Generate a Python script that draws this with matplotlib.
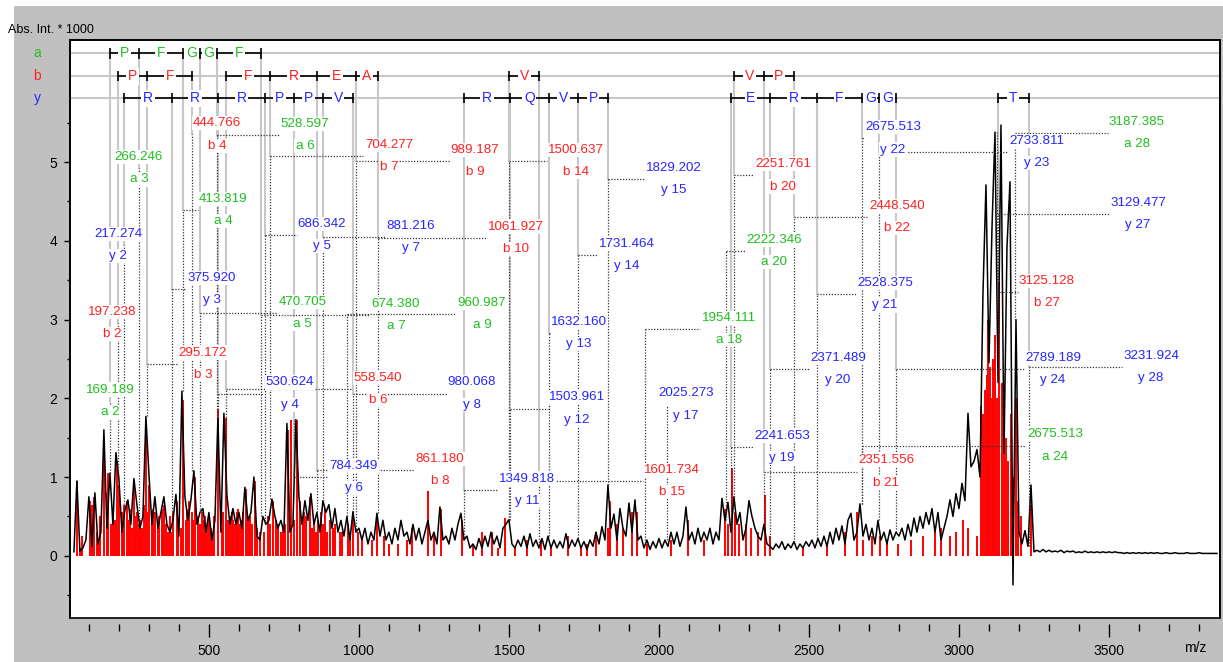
import numpy as np
import matplotlib
matplotlib.use("Agg")
import matplotlib.pyplot as plt
import matplotlib.transforms as mtransforms
from matplotlib.patches import Rectangle
from matplotlib.ticker import MultipleLocator

plt.rcParams['font.family'] = ['Liberation Sans', 'DejaVu Sans']

# profile spectrum (Abs. Int. * 1000), one point every 10 Da starting at m/z 50
profile_start = 50
profile_step = 10
profile_int = [
    0.05, 0.95, 0.06, 0.10, 0.20, 0.75, 0.12, 0.80, 0.15, 0.30, 1.60, 0.35, 1.05, 0.40, 1.31, 0.98, 0.30, 0.58, 0.71, 0.40,
    0.98, 0.65, 0.35, 0.50, 1.77, 1.04, 0.40, 0.75, 0.35, 0.55, 0.75, 0.40, 0.30, 0.45, 0.78, 0.25, 2.09, 0.75, 0.45, 0.71,
    1.08, 0.40, 0.55, 0.60, 0.30, 0.55, 0.20, 0.45, 1.75, 0.30, 1.81, 0.77, 0.40, 0.60, 0.40, 0.55, 0.35, 0.87, 0.45, 0.55,
    1.00, 0.25, 0.20, 0.50, 0.40, 0.45, 0.72, 0.50, 0.35, 0.45, 0.30, 1.68, 0.30, 0.40, 1.73, 0.75, 0.40, 0.70, 0.45, 0.79,
    0.40, 0.55, 0.30, 0.70, 0.55, 0.65, 0.35, 0.60, 0.30, 0.45, 0.25, 0.50, 0.20, 0.56, 0.30, 0.35, 0.20, 0.35, 0.15, 0.30,
    0.20, 0.54, 0.25, 0.45, 0.20, 0.30, 0.15, 0.35, 0.20, 0.45, 0.25, 0.30, 0.15, 0.40, 0.20, 0.35, 0.15, 0.30, 0.45, 0.20,
    0.30, 0.15, 0.62, 0.20, 0.25, 0.15, 0.35, 0.20, 0.40, 0.54, 0.20, 0.25, 0.10, 0.15, 0.08, 0.22, 0.10, 0.25, 0.12, 0.30,
    0.15, 0.25, 0.10, 0.35, 0.40, 0.46, 0.15, 0.10, 0.20, 0.12, 0.25, 0.10, 0.28, 0.12, 0.20, 0.10, 0.22, 0.08, 0.25, 0.10,
    0.20, 0.10, 0.18, 0.10, 0.28, 0.10, 0.20, 0.12, 0.22, 0.10, 0.18, 0.08, 0.20, 0.12, 0.30, 0.15, 0.37, 0.20, 0.90, 0.35,
    0.53, 0.20, 0.60, 0.35, 0.25, 0.67, 0.30, 0.71, 0.20, 0.25, 0.10, 0.20, 0.08, 0.18, 0.10, 0.22, 0.10, 0.20, 0.12, 0.30,
    0.15, 0.30, 0.12, 0.25, 0.62, 0.20, 0.30, 0.15, 0.35, 0.18, 0.30, 0.20, 0.35, 0.15, 0.30, 0.20, 0.73, 0.45, 0.68, 0.30,
    0.75, 0.40, 0.55, 0.20, 0.35, 0.70, 0.50, 0.35, 0.25, 0.20, 0.40, 0.15, 0.12, 0.08, 0.15, 0.10, 0.18, 0.08, 0.15, 0.10,
    0.18, 0.08, 0.15, 0.10, 0.18, 0.12, 0.20, 0.10, 0.22, 0.12, 0.25, 0.12, 0.30, 0.15, 0.35, 0.20, 0.38, 0.15, 0.45, 0.54,
    0.20, 0.30, 0.66, 0.25, 0.40, 0.20, 0.35, 0.15, 0.45, 0.20, 0.30, 0.15, 0.33, 0.20, 0.30, 0.25, 0.35, 0.20, 0.40, 0.25,
    0.48, 0.30, 0.50, 0.35, 0.55, 0.40, 0.60, 0.30, 0.55, 0.20, 0.35, 0.50, 0.71, 0.50, 0.79, 0.60, 0.92, 0.70, 1.81, 1.13,
    1.20, 1.35, 1.00, 3.34, 4.71, 2.45, 4.16, 5.38, 2.20, 5.47, 1.30, 3.92, 4.75, -0.37, 3.00, 0.30, 0.15, 0.32, 0.12, 0.90,
    0.05, 0.07, 0.05, 0.08, 0.05, 0.07, 0.05, 0.06, 0.05, 0.07, 0.04, 0.06, 0.05, 0.06, 0.04, 0.05, 0.04, 0.06, 0.04, 0.05,
    0.04, 0.05, 0.04, 0.05, 0.04, 0.05, 0.04, 0.05, 0.04, 0.04, 0.03, 0.04, 0.03, 0.04, 0.03, 0.04, 0.03, 0.04, 0.03, 0.04,
    0.03, 0.04, 0.03, 0.03, 0.04, 0.03, 0.03, 0.04, 0.03, 0.03, 0.03, 0.04, 0.03, 0.03, 0.03, 0.04, 0.03, 0.03, 0.03, 0.03,
    0.03, 0.03,
]

# centroided peak list
peak_mz = [
    59, 70, 76, 103, 109, 118, 126, 131, 137, 151, 159, 164, 173, 181, 187, 192, 200, 209, 213, 218,
    226, 233, 237, 242, 250, 255, 259, 267, 271, 276, 283, 290, 295, 300, 309, 314, 320, 329, 335, 342,
    346, 351, 358, 364, 370, 376, 380, 392, 398, 407, 414, 422, 427, 433, 442, 448, 455, 464, 470, 476,
    482, 487, 492, 500, 506, 511, 517, 531, 542, 548, 556, 564, 570, 576, 581, 587, 592, 598, 603, 609,
    615, 623, 630, 637, 645, 653, 660, 670, 684, 698, 705, 714, 722, 731, 740, 748, 755, 762, 773, 782,
    794, 803, 812, 818, 825, 837, 845, 851, 858, 864, 873, 880, 887, 895, 903, 912, 920, 937, 945, 962,
    970, 981, 998, 1010, 1042, 1059, 1084, 1100, 1131, 1160, 1176, 1231, 1250, 1273, 1342, 1380, 1411, 1442,
    1464, 1487, 1520, 1560, 1607, 1640, 1698, 1740, 1760, 1790, 1829, 1837, 1859, 1880, 1909, 1926, 1960, 2040,
    2096, 2150, 2220, 2231, 2244, 2253, 2267, 2290, 2307, 2330, 2355, 2370, 2480, 2560, 2620, 2659, 2681, 2710,
    2737, 2760, 2796, 2840, 2880, 2920, 2940, 2970, 2990, 3015, 3031, 3059, 3073, 3079, 3087, 3093, 3098, 3104,
    3109, 3115, 3120, 3126, 3135, 3143, 3150, 3157, 3165, 3173, 3181, 3190, 3198, 3206, 3239,
]
peak_int = [
    0.95, 0.10, 0.25, 0.70, 0.65, 0.75, 0.30, 0.20, 0.50, 1.45, 0.80, 1.05, 0.40, 0.55, 0.45, 1.20, 0.90, 0.55, 0.45, 0.65,
    0.70, 0.45, 0.60, 0.35, 0.90, 0.50, 0.55, 0.40, 0.45, 0.35, 0.65, 1.70, 0.55, 0.90, 0.45, 0.60, 0.55, 0.40, 0.50, 0.60,
    0.45, 0.65, 0.40, 0.30, 0.50, 0.30, 0.55, 0.70, 0.45, 0.35, 1.98, 0.45, 0.60, 0.70, 0.55, 0.45, 1.00, 0.50, 0.40, 0.55,
    0.45, 0.50, 0.40, 0.50, 0.35, 0.25, 0.50, 1.87, 0.35, 0.55, 1.75, 0.45, 0.50, 0.55, 0.45, 0.40, 0.55, 0.60, 0.40, 0.45,
    0.55, 0.85, 0.45, 0.50, 0.40, 0.95, 0.35, 0.30, 0.30, 0.50, 0.40, 0.70, 0.45, 0.40, 0.30, 0.35, 0.40, 1.60, 1.72, 0.45,
    1.72, 0.70, 0.40, 0.55, 0.50, 0.75, 0.35, 0.40, 0.30, 0.45, 0.55, 0.40, 0.60, 0.30, 0.45, 0.35, 0.40, 0.30, 0.30, 0.40,
    0.25, 0.56, 0.30, 0.20, 0.20, 0.50, 0.25, 0.15, 0.15, 0.20, 0.35, 0.82, 0.30, 0.60, 0.45, 0.15, 0.30, 0.30,
    0.10, 0.48, 0.12, 0.20, 0.20, 0.10, 0.25, 0.10, 0.15, 0.30, 0.35, 0.69, 0.40, 0.35, 0.55, 0.55, 0.15, 0.20,
    0.45, 0.20, 0.60, 0.40, 1.11, 0.55, 0.40, 0.40, 0.35, 0.30, 0.77, 0.25, 0.10, 0.15, 0.30, 0.55, 0.20, 0.25,
    0.25, 0.20, 0.15, 0.20, 0.25, 0.30, 0.35, 0.25, 0.30, 0.45, 0.35, 0.25, 1.90, 1.80, 2.10, 2.30, 2.99, 2.40,
    2.00, 2.50, 2.80, 2.00, 3.48, 2.20, 1.60, 1.50, 1.20, 1.80, 1.00, 2.00, 0.70, 0.50, 0.65,
]

# assigned fragments: ion number, m/z, label centre (m/z) and leader height
a_num = [2, 3, 4, 5, 6, 7, 9, 18, 20, 24, 28]
a_mz = [169.189, 266.246, 413.819, 470.705, 528.597, 674.380, 960.987, 1954.111, 2222.346, 2675.513, 3187.385]
a_lab_x = [173, 267, 547, 813, 820, 1123, 1410, 2233, 2383, 3320, 3593]
a_lab_y = [1.97, 4.92, 4.39, 3.08, 5.34, 3.06, 3.07, 2.88, 3.87, 1.40, 5.37]

b_num = [2, 3, 4, 6, 7, 8, 9, 10, 14, 15, 20, 21, 22, 27]
b_mz = [197.238, 295.172, 444.766, 558.540, 704.277, 861.180, 989.187, 1061.927, 1500.637, 1601.734,
        2251.761, 2351.556, 2448.540, 3125.128]
b_lab_x = [177, 480, 527, 1063, 1100, 1270, 1387, 1523, 1723, 2043, 2413, 2757, 2793, 3293]
b_lab_y = [2.96, 2.44, 5.35, 2.12, 5.08, 1.09, 5.01, 4.04, 5.01, 0.95, 4.83, 1.07, 4.30, 3.35]

y_num = [2, 3, 4, 5, 6, 7, 8, 11, 12, 13, 14, 15, 17, 19, 20, 21, 22, 23, 24, 27, 28]
y_mz = [217.274, 375.920, 530.624, 686.342, 784.349, 881.216, 980.068, 1349.818, 1503.961, 1632.160,
        1731.464, 1829.202, 2025.273, 2241.653, 2371.489, 2528.375, 2675.513, 2733.811, 2789.189,
        3129.477, 3231.924]
y_lab_x = [197, 510, 770, 877, 983, 1173, 1377, 1560, 1727, 1733, 1893, 2050, 2090, 2410, 2597, 2753,
           2780, 3260, 3313, 3597, 3640]
y_lab_y = [3.95, 3.39, 2.06, 4.07, 1.00, 4.05, 2.06, 0.84, 1.87, 2.83, 3.82, 4.78, 1.92, 1.38, 2.37,
           3.32, 5.30, 5.13, 2.37, 4.34, 2.40]

# sequence ladders (runs of consecutive ions) and the residues between them
a_ladder = [[2, 3, 4, 5, 6, 7]]
a_ladder_aa = [['P', 'F', 'G', 'G', 'F']]
b_ladder = [[2, 3, 4], [6, 7, 8, 9, 10], [14, 15], [20, 21, 22]]
b_ladder_aa = [['P', 'F'], ['F', 'R', 'E', 'A'], ['V'], ['V', 'P']]
y_ladder = [[2, 3, 4, 5, 6, 7, 8], [11, 12, 13, 14, 15], [19, 20, 21, 22, 23, 24], [27, 28]]
y_ladder_aa = [['R', 'R', 'R', 'P', 'P', 'V'], ['R', 'Q', 'V', 'P'], ['E', 'R', 'F', 'G', 'G'], ['T']]

row_y = {'a': 6.38, 'b': 6.09, 'y': 5.81}
colors = {'a': '#1fbf1f', 'b': '#ff2020', 'y': '#2626ff'}

W, H = 1223, 662
fig = plt.figure(figsize=(W / 100, H / 100), dpi=100, facecolor='white')
fig.add_artist(Rectangle((14 / W, 0), 1, 1 - 6 / H, transform=fig.transFigure,
                         facecolor='#c0c0c0', edgecolor='none', zorder=-10))
ax = fig.add_axes([70 / W, 1 - 618 / H, 1150 / W, 578 / H])
ax.set_facecolor('white')
ax.set_xlim(37, 3870)
ax.set_ylim(-0.79, 6.55)

px_mz = (3870 - 37) / 1150.0  # m/z units per pixel

prof_mz = profile_start + profile_step * np.arange(len(profile_int))
prof = np.array(profile_int)

# row guide lines
for r in row_y.values():
    ax.axhline(r, color='#c8c8c8', lw=1.5, zorder=1)

# spectrum
ax.vlines(peak_mz, 0, peak_int, color='#ff0000', lw=1.4, zorder=2)
ax.plot(prof_mz, prof, color='black', lw=1.1, zorder=3)

series = {
    'a': (a_num, a_mz, a_lab_x, a_lab_y, a_ladder, a_ladder_aa),
    'b': (b_num, b_mz, b_lab_x, b_lab_y, b_ladder, b_ladder_aa),
    'y': (y_num, y_mz, y_lab_x, y_lab_y, y_ladder, y_ladder_aa),
}

dots = dict(color='#333333', lw=0.9, ls=(0, (1, 1.3)), zorder=4)
for kind, (nums, mzs, lxs, lys, ladder, ladder_aa) in series.items():
    col = colors[kind]
    in_ladder = {n for run in ladder for n in run}
    for n, mz, lx, ly in zip(nums, mzs, lxs, lys):
        near = np.abs(prof_mz - mz) <= 6
        top = prof[near].max() if near.any() else 0.05
        txt = f"{mz:.3f}"
        # grey drop line from the ladder row to the label level
        if n in in_ladder:
            ax.plot([mz, mz], [row_y[kind], ly], color='#c8c8c8', lw=1.5, zorder=1)
        # dotted leader: peak top -> label level -> label edge
        ax.plot([mz, mz], [top, ly], **dots)
        hw = ((len(txt) - 1) * 0.556 + 0.278) * 13 / 2 * px_mz + 2 * px_mz
        if abs(lx - mz) > hw:
            end = lx - hw if lx > mz else lx + hw
            ax.plot([mz, end], [ly, ly], **dots)
        box = dict(facecolor='white', edgecolor='none', pad=0.8)
        ax.annotate(txt, (lx, ly), xytext=(0, 8), textcoords='offset points', ha='center',
                    va='center', color=col, fontsize=9.6, bbox=box, zorder=5)
        ax.annotate(f"{kind} {n}", (lx, ly), xytext=(0, -8), textcoords='offset points',
                    ha='center', va='center', color=col, fontsize=9.6, bbox=box, zorder=5)

    # ladder
    lookup = dict(zip(nums, mzs))
    ry = row_y[kind]
    for run, aas in zip(ladder, ladder_aa):
        xs = [lookup[n] for n in run]
        ax.plot([xs[0], xs[-1]], [ry, ry], color='black', lw=1.2, zorder=6)
        ax.vlines(xs, ry - 0.065, ry + 0.065, color='black', lw=1.2, zorder=6)
        for x0, x1, aa in zip(xs[:-1], xs[1:], aas):
            ax.text((x0 + x1) / 2, ry, aa, ha='center', va='center', color=col, fontsize=10,
                    bbox=dict(facecolor='white', edgecolor='none', pad=1.2), zorder=7)

# row names in the left margin
row_tr = mtransforms.blended_transform_factory(fig.transFigure, ax.transData)
for kind, r in row_y.items():
    ax.text(37 / W, r, kind, transform=row_tr, ha='center', va='center', color=colors[kind],
            fontsize=10, clip_on=False)

# axes and ticks
for s in ax.spines.values():
    s.set_linewidth(1.2)
ax.spines['bottom'].set_position(('outward', 4))
ax.spines['bottom'].set_color('none')
ax.add_patch(Rectangle((0, 0), 1, 1, transform=ax.transAxes, fill=False, edgecolor='black',
                       lw=1.2, clip_on=False, zorder=10))
ax.set_xticks([500, 1000, 1500, 2000, 2500, 3000, 3500])
ax.xaxis.set_minor_locator(MultipleLocator(100))
ax.set_yticks([0, 1, 2, 3, 4, 5])
ax.set_yticks(np.arange(-0.5, 6.0, 0.5), minor=True)
ax.tick_params(axis='x', which='major', length=9, width=1, pad=6, labelsize=10)
ax.tick_params(axis='x', which='minor', length=5, width=1)
ax.tick_params(axis='y', which='major', length=4, width=1, pad=5, labelsize=10)
ax.tick_params(axis='y', which='minor', length=2, width=1)

fig.text(8 / W, 1 - 30 / H, 'Abs. Int. * 1000', ha='left', va='center', fontsize=9)
fig.text(1195 / W, 1 - 648 / H, 'm/z', ha='center', va='center', fontsize=10)

fig.savefig('out.png', dpi=100, facecolor='white')
